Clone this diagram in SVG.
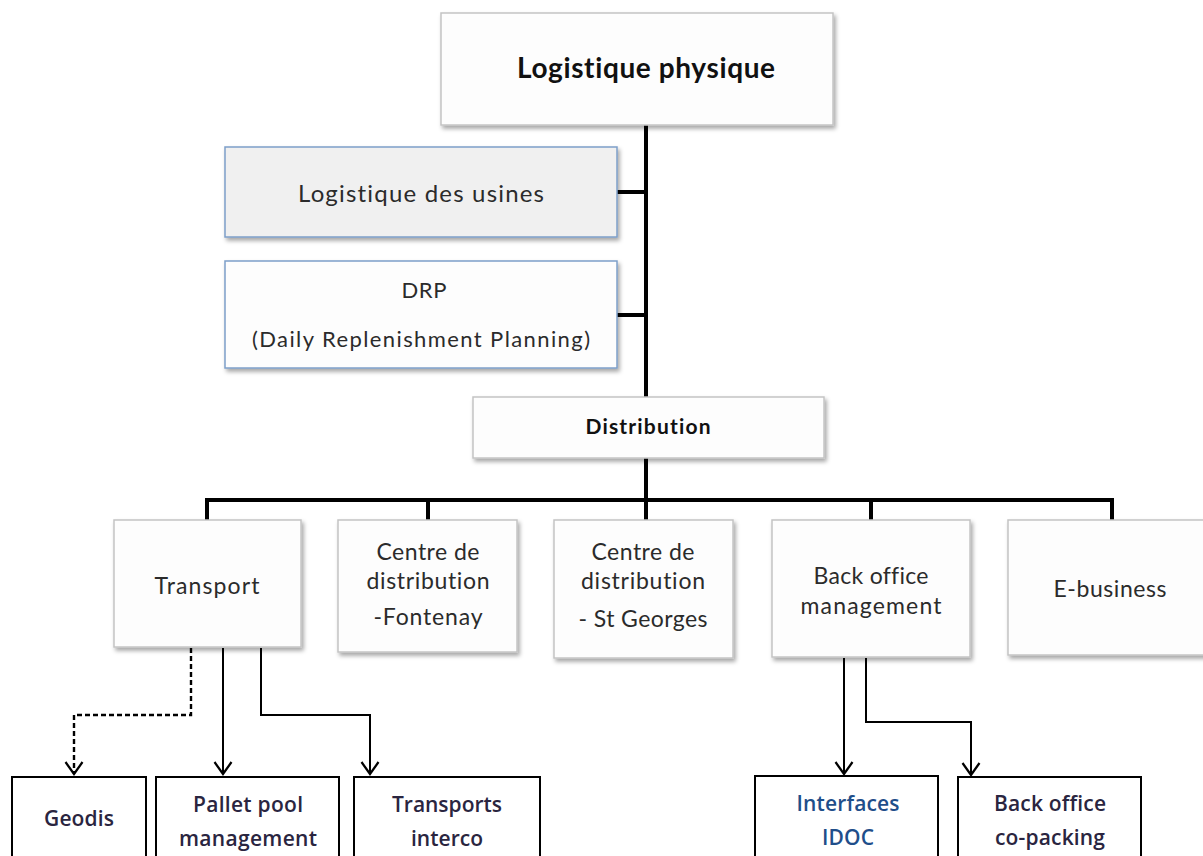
<svg xmlns="http://www.w3.org/2000/svg" width="1203" height="856" viewBox="0 0 1203 856">
  <defs>
    <filter id="shadow" x="-10%" y="-10%" width="125%" height="135%">
      <feDropShadow dx="2" dy="3" stdDeviation="2" flood-color="#000" flood-opacity="0.35"/>
    </filter>
    <!-- open V arrowhead, drawn pointing along +x -->
    <marker id="vhead" markerWidth="16" markerHeight="20" viewBox="0 0 16 20" refX="14" refY="10" orient="auto" markerUnits="userSpaceOnUse">
      <path d="M2 1.5 L14 10 L2 18.5" fill="none" stroke="#000" stroke-width="2.2"/>
    </marker>
    <style>
      text { font-variant-ligatures: none; }
      .box { fill: #fdfdfd; stroke: #c4c4c4; stroke-width: 1.5; filter: url(#shadow); }
      .bluebox { stroke: #7e9fc9; stroke-width: 1.5; filter: url(#shadow); }
      .leaf { fill: #fff; stroke: #000; stroke-width: 2; }
      .t { font-family: Lato, "Open Sans", "Liberation Sans", sans-serif; fill: #2b2b2b; text-anchor: middle; }
      .m { font-size: 23px; }
      .b { font-weight: bold; fill: #111; }
      .lt { font-family: "Open Sans", Lato, "Liberation Sans", sans-serif; font-weight: 600; font-size: 21px; fill: #2a2540; text-anchor: middle; }
      .blue { fill: #1f4e8a; }
      .tree { fill: none; stroke: #000; stroke-width: 4; }
      .arr { fill: none; stroke: #000; stroke-width: 2; marker-end: url(#vhead); }
      .dash { stroke-width: 2.4; stroke-dasharray: 5 3; }
    </style>
  </defs>

  <rect width="1203" height="856" fill="#fff"/>

  <!-- connectors -->
  <g id="connectors">
    <path class="tree" d="M646 125 V397"/>
    <path class="tree" d="M617 192 H646"/>
    <path class="tree" d="M617 315 H646"/>
    <path class="tree" d="M646 458 V520"/>
    <path class="tree" d="M207 520 V500 H1112 V520"/>
    <path class="tree" d="M428 500 V520"/>
    <path class="tree" d="M871 500 V520"/>
    <path class="arr dash" d="M191 648 V715 H74 V774"/>
    <path class="arr" d="M223 648 V774"/>
    <path class="arr" d="M261 648 V715 H370 V774"/>
    <path class="arr" d="M844 658 V774"/>
    <path class="arr" d="M866 658 V722 H971 V775"/>
  </g>

  <!-- top level -->
  <g id="logistique-physique">
    <rect class="box" x="441" y="13" width="392" height="112"/>
    <text class="t b" x="646" y="78" font-size="28" textLength="258">Logistique physique</text>
  </g>

  <g id="logistique-usines">
    <rect class="bluebox" x="225" y="147" width="392" height="90" fill="#f0f0f0"/>
    <text class="t" x="421" y="202" font-size="24" textLength="246">Logistique des usines</text>
  </g>

  <g id="drp">
    <rect class="bluebox" x="225" y="261" width="392" height="107" fill="#fdfdfd"/>
    <text class="t" x="424" y="298" font-size="22" textLength="45">DRP</text>
    <text class="t" x="421" y="347" font-size="22" textLength="338">(Daily Replenishment  Planning)</text>
  </g>

  <g id="distribution">
    <rect class="box" x="473" y="397" width="351" height="61"/>
    <text class="t b" x="648" y="434" font-size="21" textLength="125">Distribution</text>
  </g>

  <!-- distribution branches -->
  <g id="transport">
    <rect class="box" x="114" y="520" width="187" height="127"/>
    <text class="t m" x="207" y="594" textLength="105">Transport</text>
  </g>

  <g id="cd-fontenay">
    <rect class="box" x="338" y="520" width="179" height="132"/>
    <text class="t m" x="428" y="560" textLength="103">Centre de</text>
    <text class="t m" x="428" y="589" textLength="123">distribution</text>
    <text class="t m" x="428" y="625" textLength="109">-Fontenay</text>
  </g>

  <g id="cd-st-georges">
    <rect class="box" x="554" y="520" width="179" height="138"/>
    <text class="t m" x="643" y="560" textLength="103">Centre de</text>
    <text class="t m" x="643" y="589" textLength="124">distribution</text>
    <text class="t m" x="643" y="627" textLength="129">- St Georges</text>
  </g>

  <g id="back-office-management">
    <rect class="box" x="772" y="520" width="198" height="137"/>
    <text class="t m" x="871" y="584" textLength="115">Back office</text>
    <text class="t m" x="871" y="614" textLength="141">management</text>
  </g>

  <g id="e-business">
    <rect class="box" x="1008" y="520" width="205" height="135"/>
    <text class="t m" x="1110" y="597" textLength="113">E-business</text>
  </g>

  <!-- transport / back office sub-units -->
  <g id="geodis">
    <rect class="leaf" x="12" y="777" width="134" height="100"/>
    <text class="lt" x="79" y="826" textLength="70">Geodis</text>
  </g>

  <g id="pallet-pool">
    <rect class="leaf" x="156" y="777" width="183" height="100"/>
    <text class="lt" x="248" y="812" textLength="110">Pallet pool</text>
    <text class="lt" x="248" y="846" textLength="138">management</text>
  </g>

  <g id="transports-interco">
    <rect class="leaf" x="354" y="777" width="186" height="100"/>
    <text class="lt" x="447" y="812" textLength="110">Transports</text>
    <text class="lt" x="447" y="846" textLength="72">interco</text>
  </g>

  <g id="interfaces-idoc">
    <rect class="leaf" x="755" y="776" width="183" height="100"/>
    <text class="lt blue" x="848" y="811" textLength="103">Interfaces</text>
    <text class="lt blue" x="848" y="845" textLength="52">IDOC</text>
  </g>

  <g id="back-office-copacking">
    <rect class="leaf" x="958" y="777" width="183" height="100"/>
    <text class="lt" x="1050" y="811" textLength="112">Back office</text>
    <text class="lt" x="1050" y="845" textLength="110">co-packing</text>
  </g>
</svg>
